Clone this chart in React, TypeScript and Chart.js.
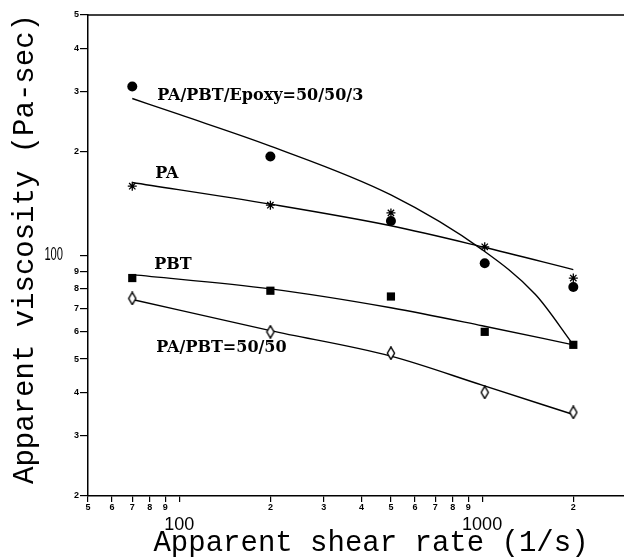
import React, { useEffect, useRef } from 'react';
import { Chart, registerables } from 'chart.js';

Chart.register(...registerables);

// Measured data points (shear rate in 1/s, viscosity in Pa-sec)
const shearRates = [70, 200, 500, 1020, 2000];
const epoxyViscosity = [310, 194, 126, 95, 81];
const paViscosity = [159, 140, 133, 106, 86];
const pbtViscosity = [86, 79, 76, 60, 55];
const blendViscosity = [75, 60, 52, 40, 35];

// Fitted curves
const epoxyFitRates = [70, 100, 200, 500, 1000, 1500, 2000];
const epoxyFitViscosity = [286, 257, 208, 150, 104, 77, 55];
const fitRates = [70, 200, 500, 1000, 2000];
const paFitViscosity = [163, 141, 122, 106, 91];
const pbtFitViscosity = [88, 80, 70.5, 62.5, 55];
const blendFitViscosity = [74.5, 60.5, 51, 42, 34.5];

// Axis ticks
const xTickValues = [50, 60, 70, 80, 90, 100, 200, 300, 400, 500, 600, 700, 800, 900, 1000, 2000];
const yTickValues = [20, 30, 40, 50, 60, 70, 80, 90, 100, 200, 300, 400, 500];
const xDecadeLabels = [100, 1000];
const yDecadeLabels = [100];

// In-plot series labels (anchored in data coordinates)
const seriesLabels = ['PA/PBT/Epoxy=50/50/3', 'PA', 'PBT', 'PA/PBT=50/50'];
const labelAnchorRate = [84.6, 83.3, 82.7, 84];
const labelAnchorViscosity = [283, 168, 91.4, 52.5];

const xTitle = 'Apparent shear rate (1/s)';
const yTitle = 'Apparent viscosity (Pa-sec)';

function digitLabel(v: number): string {
  const mag = Math.pow(10, Math.floor(Math.log10(v) + 1e-9));
  const d = Math.round(v / mag);
  if (d === 1) return '';
  return String(d);
}

function makeDiamond(): HTMLCanvasElement {
  const c = document.createElement('canvas');
  c.width = 10;
  c.height = 14;
  const g = c.getContext('2d')!;
  g.beginPath();
  g.moveTo(5, 0.8);
  g.lineTo(8.6, 7);
  g.lineTo(5, 13.2);
  g.lineTo(1.4, 7);
  g.closePath();
  g.fillStyle = '#fff';
  g.fill();
  g.strokeStyle = '#000';
  g.lineWidth = 1.4;
  g.stroke();
  return c;
}

const annotationPlugin = {
  id: 'annotationPlugin',
  afterDraw(chart: any) {
    const { ctx, chartArea, scales } = chart;
    const xs = scales.x;
    const ys = scales.y;
    ctx.save();
    // top frame line
    ctx.strokeStyle = '#000';
    ctx.lineWidth = 1.5;
    ctx.beginPath();
    ctx.moveTo(chartArea.left, chartArea.top);
    ctx.lineTo(chartArea.right, chartArea.top);
    ctx.stroke();

    ctx.fillStyle = '#000';
    ctx.font = '18px "Liberation Sans", Arial, sans-serif';
    ctx.textAlign = 'center';
    ctx.textBaseline = 'middle';
    xDecadeLabels.forEach((v) => ctx.fillText(String(v), xs.getPixelForValue(v), xs.top + 29));
    yDecadeLabels.forEach((v) => {
      ctx.save();
      ctx.translate(ys.right - 25, ys.getPixelForValue(v));
      ctx.scale(0.62, 1);
      ctx.textAlign = 'right';
      ctx.fillText(String(v), 0, 0);
      ctx.restore();
    });

    // axis titles
    ctx.font = '29px "Liberation Mono", "Courier New", monospace';
    ctx.textAlign = 'center';
    ctx.textBaseline = 'alphabetic';
    ctx.fillText(xTitle, 371, 551);
    ctx.save();
    ctx.translate(33, 249);
    ctx.rotate(-Math.PI / 2);
    ctx.fillText(yTitle, 0, 0);
    ctx.restore();

    // series labels
    ctx.font = 'bold 16px "DejaVu Serif", serif';
    ctx.textAlign = 'left';
    seriesLabels.forEach((t, i) => {
      ctx.fillText(t, xs.getPixelForValue(labelAnchorRate[i]), ys.getPixelForValue(labelAnchorViscosity[i]));
    });
    ctx.restore();
  },
};

function pts(xs: number[], ys: number[]) {
  return xs.map((x, i) => ({ x, y: ys[i] }));
}

export default function App() {
  const ref = useRef<HTMLCanvasElement | null>(null);

  useEffect(() => {
    if (!ref.current) return;
    const diamond = makeDiamond();
    const fitLine = (data: { x: number; y: number }[]) => ({
      data,
      showLine: true,
      pointRadius: 0,
      borderColor: '#000',
      borderWidth: 1.4,
      cubicInterpolationMode: 'monotone' as const,
      fill: false,
    });
    const tickFont = { family: '"Liberation Sans", Arial, sans-serif', size: 9, weight: 'bold' as const };
    const chart = new Chart(ref.current, {
      type: 'scatter',
      data: {
        datasets: [
          {
            data: pts(shearRates, epoxyViscosity),
            pointStyle: 'circle',
            pointRadius: 5,
            backgroundColor: '#000',
            borderColor: '#000',
            borderWidth: 0,
          },
          {
            data: pts(shearRates, paViscosity),
            pointStyle: 'star',
            pointRadius: 4.5,
            backgroundColor: '#000',
            borderColor: '#000',
            borderWidth: 1.3,
          },
          {
            data: pts(shearRates, pbtViscosity),
            pointStyle: 'rect',
            pointRadius: 5.8,
            backgroundColor: '#000',
            borderColor: '#000',
            borderWidth: 0,
          },
          {
            data: pts(shearRates, blendViscosity),
            pointStyle: diamond,
            pointRadius: 6,
            backgroundColor: '#fff',
            borderColor: '#000',
          },
          fitLine(pts(epoxyFitRates, epoxyFitViscosity)),
          fitLine(pts(fitRates, paFitViscosity)),
          fitLine(pts(fitRates, pbtFitViscosity)),
          fitLine(pts(fitRates, blendFitViscosity)),
        ] as any,
      },
      options: {
        animation: false,
        responsive: false,
        maintainAspectRatio: false,
        layout: { autoPadding: false, padding: { top: 15, right: 0, left: 0, bottom: 0 } },
        plugins: { legend: { display: false }, tooltip: { enabled: false } },
        scales: {
          x: {
            type: 'logarithmic',
            position: 'bottom',
            min: 50,
            max: 2940,
            afterBuildTicks: (s: any) => {
              s.ticks = xTickValues.map((value) => ({ value }));
            },
            afterFit: (s: any) => {
              s.height = 63;
              s.paddingLeft = 0;
              s.paddingRight = 0;
            },
            ticks: {
              autoSkip: false,
              maxRotation: 0,
              minRotation: 0,
              padding: 0,
              color: '#000',
              font: tickFont,
              callback: (v: any) => digitLabel(Number(v)),
            },
            grid: { display: true, drawOnChartArea: false, drawTicks: true, tickLength: 6, color: '#000', lineWidth: 1.2 },
            border: { display: true, color: '#000', width: 1.5 },
          },
          y: {
            type: 'logarithmic',
            position: 'left',
            min: 20,
            max: 500,
            afterBuildTicks: (s: any) => {
              s.ticks = yTickValues.map((value) => ({ value }));
            },
            afterFit: (s: any) => {
              s.width = 88;
              s.paddingTop = 0;
              s.paddingBottom = 0;
            },
            ticks: {
              autoSkip: false,
              padding: 1,
              color: '#000',
              font: tickFont,
              callback: (v: any) => digitLabel(Number(v)),
            },
            grid: { display: true, drawOnChartArea: false, drawTicks: true, tickLength: 8, color: '#000', lineWidth: 1.2 },
            border: { display: true, color: '#000', width: 1.5 },
          },
        },
      } as any,
      plugins: [annotationPlugin],
    });
    return () => chart.destroy();
  }, []);

  return (
    <div style={{ position: 'fixed', left: 0, top: 0, width: 624, height: 559, background: '#fff' }}>
      <canvas ref={ref} width={624} height={559} style={{ display: 'block', width: 624, height: 559 }} />
    </div>
  );
}
